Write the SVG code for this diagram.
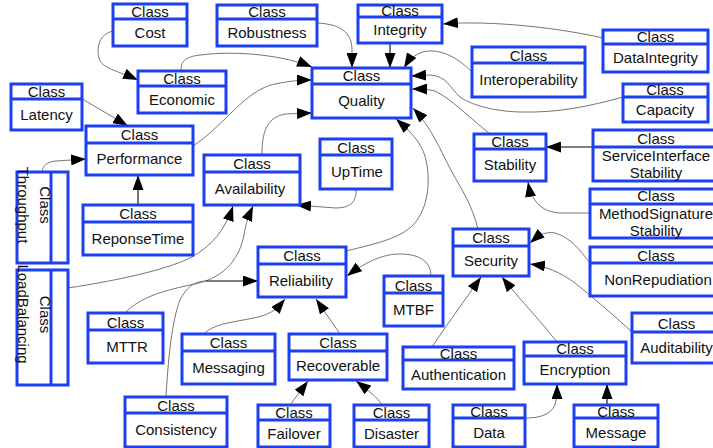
<svg xmlns="http://www.w3.org/2000/svg" width="713" height="448" viewBox="0 0 713 448">
  <style>
    .box { fill: #fff; stroke: #1c3ff2; stroke-width: 3; }
    .div { stroke: #1c3ff2; stroke-width: 3; }
    text { font-family: "Liberation Sans", Arial, sans-serif; font-size: 15px; fill: #111; text-anchor: middle; }
    .edge { fill: none; stroke: #666; stroke-width: 0.9; }
    .edge-dark { fill: none; stroke: #000; stroke-width: 1.1; }
  </style>
  <defs>
    <marker id="arrow" markerUnits="userSpaceOnUse" markerWidth="15" markerHeight="11" viewBox="0 0 15 11" refX="15" refY="5.5" orient="auto">
      <path d="M0,0 L15,5.5 L0,11 z" fill="#000"/>
    </marker>
  </defs>

  <!-- connectors -->
  <g id="connectors">
    <path class="edge" d="M113,31 C100,34 96,46 99,58 C101,68 118,71 138,80" marker-end="url(#arrow)"/>
    <path class="edge" d="M181,71 C181,62 184,57 200,55 C240,50 285,56 312,67" marker-end="url(#arrow)"/>
    <path class="edge" d="M317,23 C340,24 352,32 352,50 L352,68" marker-end="url(#arrow)"/>
    <path class="edge-dark" d="M390,43 L390,68" marker-end="url(#arrow)"/>
    <path class="edge" d="M603,38 C560,28 490,20 443,24" marker-end="url(#arrow)"/>
    <path class="edge" d="M472,72 C460,60 445,50 428,51 C418,52 410,58 404,68" marker-end="url(#arrow)"/>
    <path class="edge" d="M623,97 C590,106 560,113 520,112 C490,111 470,104 460,97 C450,88 447,76 430,75 L411,76" marker-end="url(#arrow)"/>
    <path class="edge" d="M490,134 C470,118 450,98 435,91 C428,89 420,89 412,89" marker-end="url(#arrow)"/>
    <path class="edge" d="M478,229 C472,205 462,190 452,172 C440,150 432,128 413,108" marker-end="url(#arrow)"/>
    <path class="edge" d="M346,251 C370,245 395,240 410,228 C428,212 430,185 427,165 C424,148 418,138 396,119" marker-end="url(#arrow)"/>
    <path class="edge" d="M193,146 C225,125 245,90 275,84 C290,81 300,80 312,80" marker-end="url(#arrow)"/>
    <path class="edge" d="M262,155 C262,135 265,118 285,114 L312,113" marker-end="url(#arrow)"/>
    <path class="edge" d="M79,97 L128,126" marker-end="url(#arrow)"/>
    <path class="edge" d="M42,172 C43,165 47,162 56,161 L86,159" marker-end="url(#arrow)"/>
    <path class="edge-dark" d="M138,205 L138,175" marker-end="url(#arrow)"/>
    <path class="edge" d="M68,288 C120,280 165,270 190,258 C212,246 225,230 233,206" marker-end="url(#arrow)"/>
    <path class="edge" d="M125,313 C140,297 165,290 195,284 C228,277 240,255 244,235 C246,222 249,215 253,206" marker-end="url(#arrow)"/>
    <path class="edge" d="M356,189 C357,202 350,208 336,208 L296,205" marker-end="url(#arrow)"/>
    <path class="edge" d="M166,397 C168,360 172,320 180,300 C186,288 194,281 206,281"/>
    <path class="edge-dark" d="M206,281 L258,281" marker-end="url(#arrow)"/>
    <path class="edge" d="M431,276 C431,262 420,254 400,254 C385,254 368,260 347,276" marker-end="url(#arrow)"/>
    <path class="edge" d="M204,334 C215,322 240,322 262,316 C275,312 280,305 285,299" marker-end="url(#arrow)"/>
    <path class="edge" d="M340,334 L316,299" marker-end="url(#arrow)"/>
    <path class="edge" d="M290,405 L308,381" marker-end="url(#arrow)"/>
    <path class="edge" d="M382,405 C378,398 368,390 356,381" marker-end="url(#arrow)"/>
    <path class="edge" d="M432,347 C450,320 465,300 481,277" marker-end="url(#arrow)"/>
    <path class="edge" d="M557,342 C540,320 520,300 502,277" marker-end="url(#arrow)"/>
    <path class="edge" d="M632,332 C610,312 590,295 575,283 C560,272 545,266 530,264" marker-end="url(#arrow)"/>
    <path class="edge" d="M590,263 C580,250 570,237 555,233 C545,231 538,236 530,243" marker-end="url(#arrow)"/>
    <path class="edge-dark" d="M593,147 L546,147" marker-end="url(#arrow)"/>
    <path class="edge" d="M590,213 L560,213 C545,212 532,205 528,182" marker-end="url(#arrow)"/>
    <path class="edge" d="M525,418 C540,418 550,415 555,405 C557,398 557,392 557,384" marker-end="url(#arrow)"/>
    <path class="edge-dark" d="M607,405 L607,384" marker-end="url(#arrow)"/>
  </g>

  <!-- class nodes -->
  <g id="cost"><rect class="box" x="113" y="4" width="74" height="42"/><line class="div" x1="113" y1="19" x2="187" y2="19"/><text x="150" y="17">Class</text><text x="150" y="37.5">Cost</text></g>
  <g id="robustness"><rect class="box" x="217" y="5" width="100" height="41"/><line class="div" x1="217" y1="19" x2="317" y2="19"/><text x="267" y="17">Class</text><text x="267" y="37.5">Robustness</text></g>
  <g id="integrity"><rect class="box" x="358" y="5" width="84" height="38"/><line class="div" x1="358" y1="17" x2="442" y2="17"/><text x="400" y="16">Class</text><text x="400" y="35">Integrity</text></g>
  <g id="dataintegrity"><rect class="box" x="603" y="30" width="105" height="42"/><line class="div" x1="603" y1="44" x2="708" y2="44"/><text x="655.5" y="42">Class</text><text x="655.5" y="63">DataIntegrity</text></g>
  <g id="interoperability"><rect class="box" x="472" y="47" width="113" height="50"/><line class="div" x1="472" y1="63" x2="585" y2="63"/><text x="528.5" y="60.5">Class</text><text x="528.5" y="85">Interoperability</text></g>
  <g id="capacity"><rect class="box" x="623" y="84" width="85" height="38"/><line class="div" x1="623" y1="97" x2="708" y2="97"/><text x="665" y="95">Class</text><text x="665" y="114.5">Capacity</text></g>
  <g id="economic"><rect class="box" x="138" y="71" width="88" height="42"/><line class="div" x1="138" y1="86" x2="226" y2="86"/><text x="182" y="83.5">Class</text><text x="182" y="104.5">Economic</text></g>
  <g id="latency"><rect class="box" x="11" y="84" width="71" height="46"/><line class="div" x1="11" y1="99" x2="82" y2="99"/><text x="46.5" y="96.5">Class</text><text x="46.5" y="119.5">Latency</text></g>
  <g id="quality"><rect class="box" x="312" y="68" width="99" height="50"/><line class="div" x1="312" y1="84" x2="411" y2="84"/><text x="361.5" y="80.5">Class</text><text x="361.5" y="105.5">Quality</text></g>
  <g id="performance"><rect class="box" x="86" y="126" width="107" height="49"/><line class="div" x1="86" y1="143" x2="193" y2="143"/><text x="139.5" y="139.5">Class</text><text x="139.5" y="164">Performance</text></g>
  <g id="availability"><rect class="box" x="204" y="155" width="96" height="50"/><line class="div" x1="204" y1="172" x2="300" y2="172"/><text x="252" y="169">Class</text><text x="250" y="193.5">Availability</text></g>
  <g id="uptime"><rect class="box" x="320" y="139" width="72" height="50"/><line class="div" x1="320" y1="155" x2="392" y2="155"/><text x="356" y="152.5">Class</text><text x="357" y="177">UpTime</text></g>
  <g id="reponsetime"><rect class="box" x="83" y="205" width="110" height="50"/><line class="div" x1="83" y1="222" x2="193" y2="222"/><text x="138" y="219">Class</text><text x="138" y="243.5">ReponseTime</text></g>
  <g id="stability"><rect class="box" x="474" y="134" width="72" height="47"/><line class="div" x1="474" y1="149" x2="546" y2="149"/><text x="510" y="146.5">Class</text><text x="510" y="170">Stability</text></g>
  <g id="serviceinterfacestability"><rect class="box" x="593" y="130" width="126" height="51"/><line class="div" x1="593" y1="147" x2="719" y2="147"/><text x="656" y="143.5">Class</text><text x="656" y="160.5">ServiceInterface</text><text x="656" y="178">Stability</text></g>
  <g id="methodsignaturestability"><rect class="box" x="590" y="189" width="132" height="49"/><line class="div" x1="590" y1="204" x2="722" y2="204"/><text x="656" y="201">Class</text><text x="656" y="218.5">MethodSignature</text><text x="656" y="236">Stability</text></g>
  <g id="security"><rect class="box" x="453" y="229" width="76" height="47"/><line class="div" x1="453" y1="246" x2="529" y2="246"/><text x="491" y="243">Class</text><text x="491" y="266">Security</text></g>
  <g id="nonrepudiation"><rect class="box" x="590" y="247" width="132" height="49"/><line class="div" x1="590" y1="263" x2="722" y2="263"/><text x="656" y="260.5">Class</text><text x="658" y="284.5">NonRepudiation</text></g>
  <g id="reliability"><rect class="box" x="258" y="247" width="88" height="50"/><line class="div" x1="258" y1="264" x2="346" y2="264"/><text x="302" y="261">Class</text><text x="301" y="285.5">Reliability</text></g>
  <g id="mtbf"><rect class="box" x="384" y="276" width="59" height="50"/><line class="div" x1="384" y1="293" x2="443" y2="293"/><text x="413.5" y="290.5">Class</text><text x="413.5" y="314.5">MTBF</text></g>
  <g id="mttr"><rect class="box" x="88" y="313" width="75" height="50"/><line class="div" x1="88" y1="330" x2="163" y2="330"/><text x="125.5" y="327.5">Class</text><text x="127" y="351.5">MTTR</text></g>
  <g id="messaging"><rect class="box" x="182" y="334" width="93" height="50"/><line class="div" x1="182" y1="351" x2="275" y2="351"/><text x="228.5" y="348">Class</text><text x="228.5" y="372.5">Messaging</text></g>
  <g id="recoverable"><rect class="box" x="289" y="334" width="98" height="46"/><line class="div" x1="289" y1="351" x2="387" y2="351"/><text x="338" y="348">Class</text><text x="338" y="370.5">Recoverable</text></g>
  <g id="authentication"><rect class="box" x="403" y="347" width="111" height="42"/><line class="div" x1="403" y1="360" x2="514" y2="360"/><text x="458.5" y="358.5">Class</text><text x="458.5" y="379.5">Authentication</text></g>
  <g id="encryption"><rect class="box" x="524" y="342" width="102" height="42"/><line class="div" x1="524" y1="356" x2="626" y2="356"/><text x="575" y="354">Class</text><text x="575" y="375">Encryption</text></g>
  <g id="auditability"><rect class="box" x="632" y="313" width="89" height="50"/><line class="div" x1="632" y1="332" x2="721" y2="332"/><text x="676.5" y="328.5">Class</text><text x="676.5" y="352.5">Auditability</text></g>
  <g id="consistency"><rect class="box" x="125" y="397" width="102" height="50"/><line class="div" x1="125" y1="413" x2="227" y2="413"/><text x="176" y="410.5">Class</text><text x="176" y="435">Consistency</text></g>
  <g id="failover"><rect class="box" x="258" y="405" width="72" height="42"/><line class="div" x1="258" y1="420" x2="330" y2="420"/><text x="294" y="418">Class</text><text x="294" y="438.5">Failover</text></g>
  <g id="disaster"><rect class="box" x="354" y="405" width="75" height="42"/><line class="div" x1="354" y1="420" x2="429" y2="420"/><text x="391.5" y="418">Class</text><text x="391.5" y="438.5">Disaster</text></g>
  <g id="data"><rect class="box" x="453" y="405" width="72" height="42"/><line class="div" x1="453" y1="418" x2="525" y2="418"/><text x="489" y="416.5">Class</text><text x="489" y="438">Data</text></g>
  <g id="message"><rect class="box" x="574" y="405" width="84" height="42"/><line class="div" x1="574" y1="418" x2="658" y2="418"/><text x="616" y="416.5">Class</text><text x="616" y="438">Message</text></g>

  <!-- vertical nodes, header on the right -->
  <g id="throughput"><rect class="box" x="17" y="172" width="51" height="91"/><line class="div" x1="51" y1="172" x2="51" y2="263"/><text transform="translate(39.5,205) rotate(90)">Class</text><text transform="translate(18,205) rotate(90)">Throughput</text></g>
  <g id="loadbalancing"><rect class="box" x="17" y="270" width="51" height="115"/><line class="div" x1="51" y1="270" x2="51" y2="385"/><text transform="translate(39.5,314.5) rotate(90)">Class</text><text transform="translate(18,314) rotate(90)">LoadBalancing</text></g>
</svg>
